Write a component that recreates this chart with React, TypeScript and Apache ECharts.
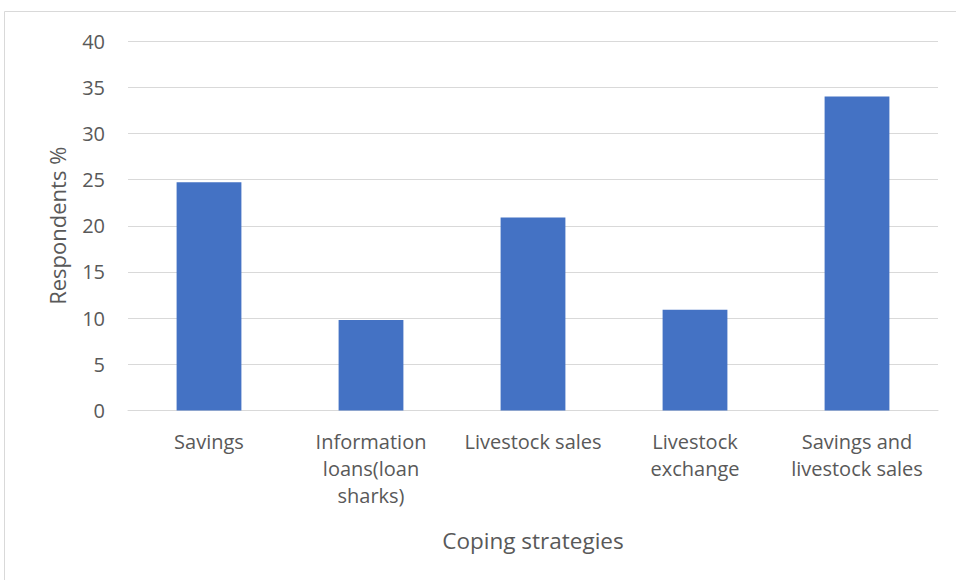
import React, { useEffect, useRef } from "react";
import * as echarts from "echarts";

const categories = [
  "Savings",
  "Information loans(loan sharks)",
  "Livestock sales",
  "Livestock exchange",
  "Savings and livestock sales",
];
const tickLabels = [
  "Savings",
  "Information\nloans(loan\nsharks)",
  "Livestock sales",
  "Livestock\nexchange",
  "Savings and\nlivestock sales",
];
const values = [24.7, 9.8, 20.9, 10.9, 34.0];
const yAxisTitle = "Respondents %";
const xAxisTitle = "Coping strategies";

const FONT = "'Open Sans', 'Noto Sans', sans-serif";

export default function App() {
  const ref = useRef<HTMLDivElement>(null);
  useEffect(() => {
    if (!ref.current) return;
    const chart = echarts.init(ref.current, undefined, { renderer: "svg" });
    chart.setOption({
      animation: false,
      backgroundColor: "#ffffff",
      textStyle: { fontFamily: FONT },
      graphic: [
        {
          type: "rect",
          shape: { x: 4.5, y: 11.5, width: 1000, height: 1000 },
          style: { fill: "none", stroke: "#d9d9d9", lineWidth: 1 },
          silent: true,
        },
      ],
      grid: { left: 128, right: 18, top: 41, bottom: 169.5 },
      xAxis: {
        type: "category",
        data: categories,
        name: xAxisTitle,
        nameLocation: "middle",
        nameGap: 118,
        nameTextStyle: { fontSize: 22.5, color: "#595959", fontFamily: FONT },
        axisLine: { show: true, lineStyle: { color: "#d9d9d9", width: 1 } },
        axisTick: { show: false },
        axisLabel: {
          color: "#595959",
          fontSize: 20,
          fontFamily: FONT,
          lineHeight: 27,
          margin: 17,
          interval: 0,
          formatter: (_v: string, i: number) => tickLabels[i],
        },
      },
      yAxis: {
        type: "value",
        min: 0,
        max: 40,
        interval: 5,
        name: yAxisTitle,
        nameLocation: "middle",
        nameGap: 60,
        nameTextStyle: { fontSize: 22, color: "#595959", fontFamily: FONT },
        axisLine: { show: false },
        axisTick: { show: false },
        axisLabel: { color: "#595959", fontSize: 20, fontFamily: FONT, margin: 23 },
        splitLine: { lineStyle: { color: "#d9d9d9", width: 1 } },
      },
      series: [
        {
          type: "bar",
          data: values,
          barWidth: "40%",
          itemStyle: { color: "#4472C4" },
        },
      ],
    });
    return () => chart.dispose();
  }, []);
  return (
    <div
      ref={ref}
      style={{ position: "fixed", left: 0, top: 0, width: 956, height: 580 }}
    />
  );
}
